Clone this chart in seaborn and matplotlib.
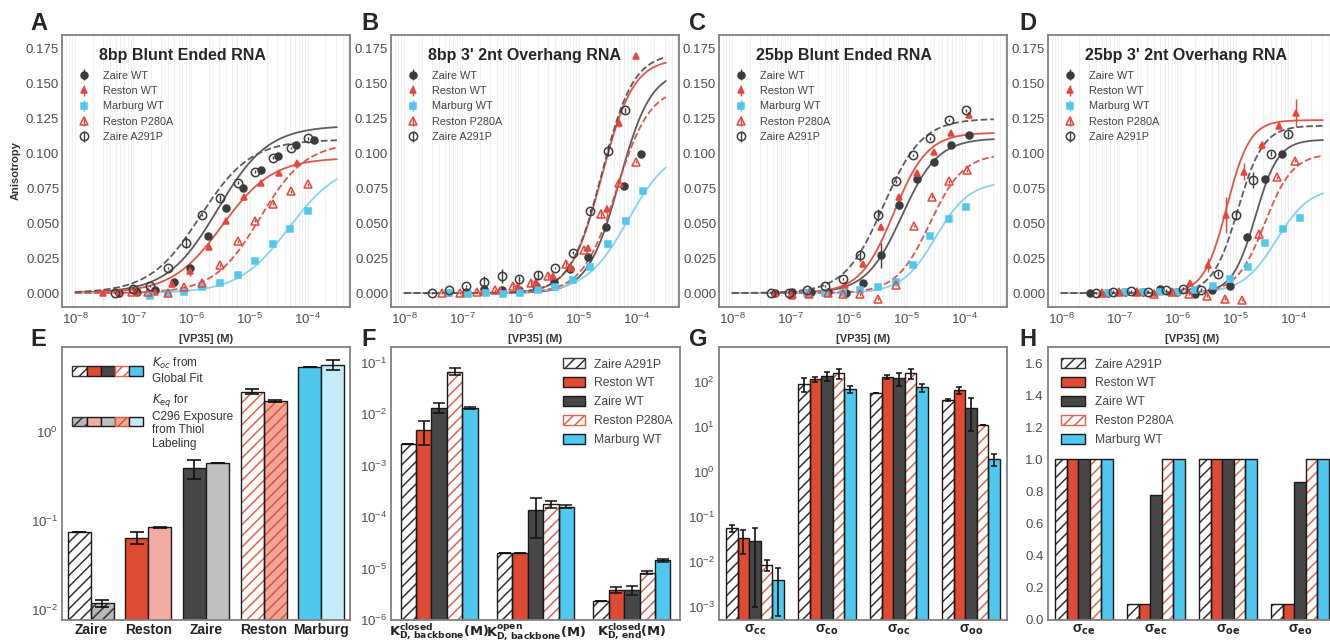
import numpy as np
import pandas as pd
import matplotlib
matplotlib.use("Agg")
import matplotlib.pyplot as plt
import seaborn as sns
from matplotlib.patches import Patch, Rectangle
from matplotlib.legend_handler import HandlerTuple
from matplotlib.ticker import LogLocator, NullLocator, FixedLocator, FormatStrFormatter

# ---------------- panels A-D : anisotropy titrations ----------------
strains = ["Zaire WT", "Reston WT", "Marburg WT", "Reston P280A", "Zaire A291P"]
rna_titles = ["8bp Blunt Ended RNA", "8bp 3' 2nt Overhang RNA",
              "25bp Blunt Ended RNA", "25bp 3' 2nt Overhang RNA"]

# log10 [VP35] (M) of each point, one list per strain (same order as strains)
logc_A = [[-7.25, -6.94, -6.62, -6.30, -6.02, -5.72, -5.41, -5.11, -4.81, -4.51, -4.21, -3.90],
          [-7.52, -7.24, -6.94, -6.62, -6.33, -6.02, -5.70, -5.40, -5.10, -4.80, -4.49, -4.19],
          [-6.72, -6.41, -6.12, -5.82, -5.51, -5.20, -4.90, -4.59, -4.30, -4.00],
          [-7.02, -6.74, -6.41, -6.12, -5.82, -5.51, -5.20, -4.90, -4.59, -4.29, -3.99],
          [-7.31, -7.01, -6.72, -6.41, -6.10, -5.82, -5.51, -5.20, -4.90, -4.59, -4.29, -3.99]]
aniso_A = [[0.000, 0.0005, 0.002, 0.008, 0.018, 0.041, 0.061, 0.075, 0.088, 0.098, 0.106, 0.110],
           [0.000, 0.0007, 0.001, 0.001, 0.0065, 0.0155, 0.033, 0.052, 0.069, 0.079, 0.086, 0.093],
           [-0.002, 0.000, 0.0007, 0.004, 0.007, 0.013, 0.023, 0.035, 0.046, 0.059],
           [0.0005, 0.001, 0.000, 0.004, 0.007, 0.020, 0.037, 0.052, 0.064, 0.073, 0.078],
           [0.000, 0.003, 0.005, 0.018, 0.036, 0.056, 0.068, 0.079, 0.087, 0.097, 0.104, 0.111]]
err_A = [[0.001, 0.001, 0.001, 0.002, 0.002, 0.002, 0.002, 0.002, 0.001, 0.001, 0.001, 0.001],
         [0.001, 0.001, 0.001, 0.001, 0.002, 0.003, 0.002, 0.002, 0.002, 0.001, 0.001, 0.001],
         [0.001, 0.001, 0.001, 0.001, 0.001, 0.001, 0.001, 0.001, 0.001, 0.001],
         [0.001, 0.001, 0.001, 0.001, 0.001, 0.001, 0.001, 0.001, 0.001, 0.001, 0.001],
         [0.001, 0.001, 0.001, 0.001, 0.004, 0.001, 0.002, 0.001, 0.001, 0.001, 0.001, 0.001]]

logc_B = [[-6.93, -6.62, -6.32, -6.02, -5.73, -5.43, -5.14, -4.84, -4.53, -4.22, -3.92],
          [-7.25, -6.95, -6.65, -6.35, -6.05, -5.74, -5.44, -5.13, -4.84, -4.52, -4.30, -4.01],
          [-7.22, -6.91, -6.60, -6.30, -6.01, -5.70, -5.40, -5.10, -4.80, -4.49, -4.19, -3.89],
          [-7.34, -7.04, -6.74, -6.43, -6.13, -5.82, -5.53, -5.21, -4.90, -4.61, -4.30, -4.01],
          [-7.52, -7.22, -6.93, -6.62, -6.32, -6.02, -5.70, -5.40, -5.10, -4.80, -4.49, -4.21]]
aniso_B = [[0.0005, 0.003, 0.002, 0.0025, 0.005, 0.008, 0.017, 0.026, 0.047, 0.077, 0.100],
           [0.000, 0.000, 0.001, 0.002, 0.005, 0.008, 0.012, 0.018, 0.032, 0.060, 0.122, 0.170],
           [0.000, -0.001, 0.000, -0.0005, 0.000, 0.002, 0.004, 0.009, 0.019, 0.035, 0.052, 0.073],
           [0.000, 0.000, 0.001, 0.002, 0.005, 0.007, 0.012, 0.021, 0.031, 0.057, 0.079, 0.094],
           [0.000, 0.002, 0.005, 0.008, 0.012, 0.010, 0.013, 0.018, 0.029, 0.059, 0.102, 0.131]]
err_B = [[0.001, 0.001, 0.001, 0.001, 0.001, 0.001, 0.001, 0.001, 0.001, 0.001, 0.001],
         [0.001, 0.001, 0.001, 0.001, 0.001, 0.001, 0.001, 0.001, 0.002, 0.003, 0.003, 0.002],
         [0.001, 0.001, 0.001, 0.001, 0.001, 0.001, 0.001, 0.001, 0.001, 0.001, 0.001, 0.001],
         [0.001, 0.001, 0.001, 0.001, 0.002, 0.002, 0.002, 0.002, 0.001, 0.003, 0.001, 0.001],
         [0.001, 0.001, 0.001, 0.004, 0.005, 0.002, 0.003, 0.001, 0.001, 0.001, 0.004, 0.002]]

logc_C = [[-7.26, -6.97, -6.65, -6.36, -6.05, -5.75, -5.44, -5.13, -4.83, -4.53, -4.23, -3.92],
          [-7.26, -6.97, -6.67, -6.36, -6.06, -5.75, -5.44, -5.13, -4.83, -4.53, -4.23, -3.92],
          [-6.71, -6.41, -6.10, -5.80, -5.50, -5.19, -4.89, -4.59, -4.28, -3.98],
          [-6.97, -6.67, -6.36, -6.10, -5.80, -5.50, -5.19, -4.88, -4.57, -4.27, -3.97],
          [-7.33, -7.02, -6.71, -6.41, -6.10, -5.80, -5.50, -5.19, -4.89, -4.59, -4.28, -3.98]]
aniso_C = [[0.000, 0.001, 0.0005, 0.0005, 0.000, 0.007, 0.027, 0.063, 0.082, 0.094, 0.106, 0.113],
           [0.000, -0.002, -0.001, 0.000, 0.006, 0.021, 0.047, 0.069, 0.086, 0.101, 0.115, 0.128],
           [0.000, 0.000, 0.000, 0.002, 0.004, 0.008, 0.020, 0.041, 0.053, 0.062],
           [-0.001, -0.0005, 0.000, -0.0005, -0.001, -0.004, 0.006, 0.048, 0.069, 0.080, 0.088],
           [0.000, 0.000, 0.002, 0.005, 0.010, 0.027, 0.056, 0.080, 0.099, 0.111, 0.124, 0.131]]
err_C = [[0.001, 0.001, 0.001, 0.001, 0.001, 0.001, 0.009, 0.003, 0.002, 0.001, 0.001, 0.001],
         [0.001, 0.001, 0.001, 0.001, 0.001, 0.002, 0.002, 0.002, 0.002, 0.001, 0.001, 0.001],
         [0.001, 0.001, 0.001, 0.001, 0.001, 0.001, 0.001, 0.001, 0.001, 0.001],
         [0.001, 0.001, 0.001, 0.001, 0.001, 0.001, 0.001, 0.001, 0.001, 0.001, 0.001],
         [0.001, 0.001, 0.001, 0.001, 0.001, 0.004, 0.004, 0.001, 0.001, 0.001, 0.001, 0.001]]

logc_D = [[-7.51, -7.20, -6.91, -6.60, -6.30, -6.00, -5.70, -5.40, -5.10, -4.80, -4.50, -4.20],
          [-7.30, -7.00, -6.70, -6.40, -6.10, -5.78, -5.47, -5.17, -4.86, -4.55, -4.26, -3.96],
          [-7.20, -6.90, -6.60, -6.30, -6.00, -5.70, -5.39, -5.09, -4.78, -4.49, -4.18, -3.89],
          [-7.30, -7.00, -6.70, -6.40, -6.10, -5.80, -5.49, -5.18, -4.89, -4.60, -4.29, -3.98],
          [-7.40, -7.10, -6.80, -6.50, -6.20, -5.90, -5.60, -5.30, -5.00, -4.70, -4.40, -4.10]]
aniso_D = [[0.000, 0.000, 0.0005, 0.0005, 0.003, 0.0005, -0.0005, 0.002, 0.005, 0.040, 0.082, 0.100],
           [0.000, 0.001, 0.0005, 0.000, 0.0005, 0.007, 0.020, 0.056, 0.087, 0.106, 0.120, 0.129],
           [0.000, 0.0005, 0.0005, 0.001, 0.0005, 0.002, 0.005, 0.010, 0.019, 0.036, 0.046, 0.054],
           [0.000, 0.001, 0.001, -0.0005, 0.0005, -0.0005, -0.002, -0.004, -0.005, 0.042, 0.083, 0.095],
           [0.000, 0.001, 0.0015, 0.001, 0.002, 0.003, 0.0025, 0.014, 0.056, 0.081, 0.100, 0.114]]
err_D = [[0.001, 0.001, 0.001, 0.001, 0.001, 0.001, 0.001, 0.001, 0.001, 0.002, 0.002, 0.001],
         [0.001, 0.001, 0.001, 0.001, 0.001, 0.002, 0.005, 0.013, 0.006, 0.003, 0.002, 0.010],
         [0.001, 0.001, 0.001, 0.001, 0.001, 0.001, 0.001, 0.001, 0.001, 0.001, 0.001, 0.001],
         [0.001, 0.001, 0.001, 0.001, 0.001, 0.001, 0.001, 0.001, 0.001, 0.003, 0.001, 0.001],
         [0.001, 0.001, 0.001, 0.001, 0.001, 0.001, 0.001, 0.002, 0.003, 0.006, 0.002, 0.002]]

# fitted binding curves: (plateau, log10 Kd, Hill slope)
fit_A = [(0.120, -5.55, 1.0), (0.097, -5.47, 1.0), (0.094, -4.32, 1.0), (0.108, -4.82, 1.1), (0.110, -5.85, 1.0)]
fit_B = [(0.160, -4.30, 1.6), (0.168, -4.60, 1.6), (0.105, -4.15, 1.2), (0.148, -4.35, 1.5), (0.172, -4.60, 1.6)]
fit_C = [(0.111, -5.08, 1.4), (0.115, -5.22, 1.5), (0.080, -4.50, 1.5), (0.100, -4.60, 1.5), (0.125, -5.40, 1.3)]
fit_D = [(0.110, -4.66, 2.2), (0.124, -5.15, 2.2), (0.076, -4.30, 1.5), (0.100, -4.50, 1.8), (0.120, -4.96, 2.0)]

# ---------------- panels E-H : fitted parameters ----------------
bar_strains = ["Zaire A291P", "Reston WT", "Zaire WT", "Reston P280A", "Marburg WT"]

e_labels = ["Zaire\nA291P", "Reston\nWT", "Zaire\nWT", "Reston\nP280A", "Marburg\nWT"]
k_oc = [0.075, 0.065, 0.39, 2.85, 5.4]
k_oc_err = [0.0, 0.010, 0.095, 0.2, 0.0]
k_eq = [0.012, 0.085, 0.45, 2.25, 5.7]
k_eq_err = [0.001, 0.001, 0.004, 0.05, 0.7]

f_labels = [r"$\mathbf{K^{closed}_{D,\,backbone}(M)}$", r"$\mathbf{K^{open}_{D,\,backbone}(M)}$",
            r"$\mathbf{K^{closed}_{D,\,end}(M)}$"]
kd_backbone_closed = [0.0027, 0.0050, 0.0135, 0.068, 0.0135]
kd_backbone_closed_err = [0.0, 0.0025, 0.003, 0.010, 0.0007]
kd_backbone_open = [2.05e-5, 2.05e-5, 1.4e-4, 1.8e-4, 1.6e-4]
kd_backbone_open_err = [0.0, 0.0, 1.0e-4, 0.3e-4, 0.1e-4]
kd_end_closed = [2.3e-6, 3.9e-6, 3.8e-6, 8.3e-6, 1.45e-5]
kd_end_closed_err = [0.0, 0.5e-6, 0.8e-6, 0.5e-6, 0.12e-5]

g_labels = [r"σ$_{\mathbf{cc}}$", r"σ$_{\mathbf{co}}$", r"σ$_{\mathbf{oc}}$", r"σ$_{\mathbf{oo}}$"]
sigma_cc = [0.055, 0.033, 0.029, 0.0085, 0.0039]
sigma_cc_err = [0.010, 0.018, 0.028, 0.0022, 0.0033]
sigma_co = [89, 113, 134, 153, 68]
sigma_co_err = [30, 15, 30, 40, 12]
sigma_oc = [57, 125, 119, 153, 75]
sigma_oc_err = [0, 12, 40, 40, 15]
sigma_oo = [40, 65, 26, 11, 1.9]
sigma_oo_err = [2, 12, 18, 0, 0.6]

h_labels = [r"σ$_{\mathbf{ce}}$", r"σ$_{\mathbf{ec}}$", r"σ$_{\mathbf{oe}}$", r"σ$_{\mathbf{eo}}$"]
sigma_ce = [1.0, 1.0, 1.0, 1.0, 1.0]
sigma_ec = [0.1, 0.1, 0.78, 1.0, 1.0]
sigma_oe = [1.0, 1.0, 1.0, 1.0, 1.0]
sigma_eo = [0.1, 0.1, 0.86, 1.0, 1.0]

# ---------------- style ----------------
sns.set_style("white")
plt.rcParams['font.family'] = ['Liberation Sans', 'DejaVu Sans']
plt.rcParams['hatch.linewidth'] = 1.1
plt.rcParams['mathtext.fontset'] = 'dejavusans'

FRAME = "#808080"
TXT = "#4d4d4d"
pt_colors = ["#3c3c3c", "#e8463a", "#52c7ee", "#e8463a", "#3c3c3c"]
ln_colors = ["#5c5c5c", "#e2554a", "#84d4ef", "#e2554a", "#5c5c5c"]
ln_styles = ["-", "-", "-", "--", "--"]
markers = ["o", "^", "s", "^", "o"]
filled = [True, True, True, False, False]

RED, DARK, BLUE = "#df4a32", "#474747", "#4fc8f0"
bar_face = ["white", RED, DARK, "white", BLUE]
bar_hatch = ["#333333", None, None, "#e8604c", None]
light_face = ["#b8b8b8", "#f2aca2", "#c0c0c0", "#f5a595", "#c5ebf8"]
light_hatch = ["#333333", None, None, "#d9553f", None]

fig = plt.figure(figsize=(13.3, 6.4), dpi=100)
W, H = 1330.0, 640.0


def px_axes(left, top, right, bottom):
    return fig.add_axes([left / W, 1 - bottom / H, (right - left) / W, (bottom - top) / H])


def frame(ax):
    for s in ax.spines.values():
        s.set_visible(True)
        s.set_color(FRAME)
        s.set_linewidth(1.3)


def style_bar(ax, bar, face, hatch_color):
    bar.set_facecolor(face)
    if hatch_color:
        bar.set_hatch("///")
        bar.set_edgecolor(hatch_color)
        bar.set_linewidth(0)
        ax.add_patch(Rectangle(bar.get_xy(), bar.get_width(), bar.get_height(), fill=False,
                               edgecolor="#1a1a1a", linewidth=1.0, zorder=bar.get_zorder() + 0.1))
    else:
        bar.set_edgecolor("#1a1a1a")
        bar.set_linewidth(1.0)


# ---------------- top row ----------------
lefts = [62, 391, 719, 1048]
logcs = [logc_A, logc_B, logc_C, logc_D]
anisos = [aniso_A, aniso_B, aniso_C, aniso_D]
errs = [err_A, err_B, err_C, err_D]
fits = [fit_A, fit_B, fit_C, fit_D]
xs = np.logspace(-8, -3.5, 300)

for p in range(4):
    ax = px_axes(lefts[p], 35, lefts[p] + 288, 307)
    ax.set_xscale("log")
    for i, s in enumerate(strains):
        top, lk, n = fits[p][i]
        r = (xs / 10 ** lk) ** n
        sns.lineplot(x=xs, y=top * r / (1 + r), ax=ax, color=ln_colors[i], linestyle=ln_styles[i],
                     linewidth=1.3, estimator=None, zorder=2)
    handles = []
    for i, s in enumerate(strains):
        h = ax.errorbar(10 ** np.array(logcs[p][i]), anisos[p][i], yerr=errs[p][i], fmt=markers[i],
                        ms=5 if filled[i] else 6, mfc=pt_colors[i] if filled[i] else "none",
                        mec=pt_colors[i], mew=1.1, ecolor=pt_colors[i], elinewidth=1.0,
                        capsize=0, zorder=3, label=s)
        handles.append(h)
    ax.set_xlim(10 ** -8.225, 10 ** -3.275)
    ax.set_ylim(-0.010, 0.185)
    ax.xaxis.set_major_locator(FixedLocator([1e-8, 1e-7, 1e-6, 1e-5, 1e-4]))
    ax.xaxis.set_minor_locator(LogLocator(base=10, subs=np.arange(2, 10), numticks=20))
    ax.grid(True, which="both", axis="x", color="#eeeeee", linewidth=0.6)
    ax.set_axisbelow(True)
    ax.set_yticks([0, 0.025, 0.05, 0.075, 0.1, 0.125, 0.15, 0.175])
    ax.yaxis.set_major_formatter(FormatStrFormatter("%.3f"))
    ax.tick_params(axis="x", which="major", length=2.5, width=1.6, color="black", pad=1,
                   labelsize=9.5, labelcolor=TXT)
    ax.tick_params(axis="x", which="minor", length=0)
    ax.tick_params(axis="y", length=0, pad=2, labelsize=9.5, labelcolor=TXT)
    frame(ax)
    ax.set_xlabel("[VP35] (M)", fontsize=8, fontweight="bold", color="#333333", labelpad=5)
    ax.set_ylabel("Anisotropy" if p == 0 else "", fontsize=8, fontweight="bold", color="#333333")
    ax.text(0.13, 0.925, rna_titles[p], transform=ax.transAxes, fontsize=11.5, fontweight="bold",
            color="#262626", va="center")
    ax.legend(handles, strains, loc="upper left", bbox_to_anchor=(0.025, 0.885), frameon=False,
              fontsize=7.8, labelcolor="#444444", handletextpad=0.7, labelspacing=0.5,
              borderaxespad=0)

# ---------------- E ----------------
axE = px_axes(62, 347, 350, 620)
e_df = pd.DataFrame({"strain": e_labels * 2, "value": k_oc + k_eq,
                     "source": ["Global Fit"] * 5 + ["Thiol Labeling"] * 5})
sns.barplot(data=e_df, x="strain", y="value", hue="source", order=e_labels,
            hue_order=["Global Fit", "Thiol Labeling"], palette=["white", "white"],
            errorbar=None, width=0.8, legend=False, ax=axE)
axE.set_yscale("log")
e_sets = [(bar_face, bar_hatch, k_oc, k_oc_err), (light_face, light_hatch, k_eq, k_eq_err)]
for cont, (faces, hatches, vals, ers) in zip(list(axE.containers), e_sets):
    for j, bar in enumerate(cont):
        style_bar(axE, bar, faces[j], hatches[j])
    cx = [b.get_x() + b.get_width() / 2 for b in cont]
    axE.errorbar(cx, vals, yerr=ers, fmt="none", ecolor="#111111", elinewidth=1.2,
                 capsize=5, capthick=1.2, zorder=5)
axE.set_xlim(-0.5, 4.5)
axE.set_ylim(10 ** -2.11, 10 ** 0.955)

row1 = tuple(Patch(facecolor=f, edgecolor=h if h else "#1a1a1a", hatch="///" if h else None)
             for f, h in zip(bar_face, bar_hatch))
row2 = tuple(Patch(facecolor=f, edgecolor=h if h else "#1a1a1a", hatch="///" if h else None)
             for f, h in zip(light_face, light_hatch))
axE.legend([row1, row2], ["$K_{oc}$ from\nGlobal Fit", "$K_{eq}$ for\nC296 Exposure\nfrom Thiol\nLabeling"],
           handler_map={tuple: HandlerTuple(ndivide=None, pad=0)}, loc="upper left",
           bbox_to_anchor=(0.02, 0.985), frameon=False, fontsize=8.5, labelcolor="#333333",
           handlelength=6.0, handleheight=0.9, handletextpad=0.7, labelspacing=0.6, borderaxespad=0)


def bar_panel(ax, labels, values, errors, ylim, log, cap):
    n_strain = len(bar_strains)
    df = pd.DataFrame({"param": [l for l in labels for _ in range(n_strain)],
                       "strain": bar_strains * len(labels),
                       "value": [v for row in values for v in row]})
    sns.barplot(data=df, x="param", y="value", hue="strain", order=labels, hue_order=bar_strains,
                palette=bar_face, errorbar=None, width=0.8, legend=False, ax=ax)
    if log:
        ax.set_yscale("log")
    for k, cont in enumerate(list(ax.containers)):
        for bar in cont:
            style_bar(ax, bar, bar_face[k], bar_hatch[k])
        if errors is not None:
            cx = [b.get_x() + b.get_width() / 2 for b in cont]
            ax.errorbar(cx, [row[k] for row in values], yerr=[row[k] for row in errors], fmt="none",
                        ecolor="#111111", elinewidth=1.2, capsize=cap, capthick=1.1, zorder=5)
    ax.set_xlim(-0.5, len(labels) - 0.5)
    ax.set_ylim(*ylim)


strain_handles = [Patch(facecolor=f, edgecolor=h if h else "#1a1a1a", hatch="///" if h else None)
                  for f, h in zip(bar_face, bar_hatch)]

axF = px_axes(391, 347, 680, 620)
bar_panel(axF, f_labels, [kd_backbone_closed, kd_backbone_open, kd_end_closed],
          [kd_backbone_closed_err, kd_backbone_open_err, kd_end_closed_err], (1e-6, 10 ** -0.69), True, 4)
axF.legend(strain_handles, bar_strains, loc="upper right", bbox_to_anchor=(1.0, 0.985), frameon=False,
           fontsize=8.7, labelcolor="#444444", handlelength=1.8, handleheight=0.9,
           labelspacing=0.55, borderaxespad=0.2)

axG = px_axes(719, 347, 1007, 620)
bar_panel(axG, g_labels, [sigma_cc, sigma_co, sigma_oc, sigma_oo],
          [sigma_cc_err, sigma_co_err, sigma_oc_err, sigma_oo_err], (10 ** -3.3, 10 ** 2.77), True, 2)

axH = px_axes(1048, 347, 1336, 620)
bar_panel(axH, h_labels, [sigma_ce, sigma_ec, sigma_oe, sigma_eo], None, (0, 1.7), False, 0)
axH.set_yticks([0, 0.2, 0.4, 0.6, 0.8, 1.0, 1.2, 1.4, 1.6])
axH.yaxis.set_major_formatter(FormatStrFormatter("%.1f"))
axH.legend(strain_handles, bar_strains, loc="upper left", bbox_to_anchor=(0.02, 0.985), frameon=False,
           fontsize=8.7, labelcolor="#444444", handlelength=2.0, handleheight=0.9,
           labelspacing=0.55, borderaxespad=0.2)

for ax, fs in [(axE, 10), (axF, 9.4), (axG, 10), (axH, 10)]:
    frame(ax)
    ax.set_xlabel("")
    ax.set_ylabel("")
    if ax is not axH:
        ax.yaxis.set_major_locator(LogLocator(base=10, numticks=12))
        ax.yaxis.set_minor_locator(NullLocator())
    ax.tick_params(axis="y", length=0, pad=3, labelsize=9.5, labelcolor=TXT)
    ax.tick_params(axis="x", length=0, pad=1.5 if ax is axF else 2)
    for t in ax.get_xticklabels():
        t.set_fontsize(fs)
        t.set_fontweight("bold")
        t.set_color("#222222")

# panel letters
for letter, x, y in [("A", 30, 23), ("B", 361, 23), ("C", 689, 23), ("D", 1019, 23),
                     ("E", 30, 339), ("F", 361, 339), ("G", 689, 339), ("H", 1019, 339)]:
    fig.text(x / W, 1 - y / H, letter, fontsize=17, fontweight="bold", va="center", ha="left")

fig.savefig("out.png", dpi=100)
